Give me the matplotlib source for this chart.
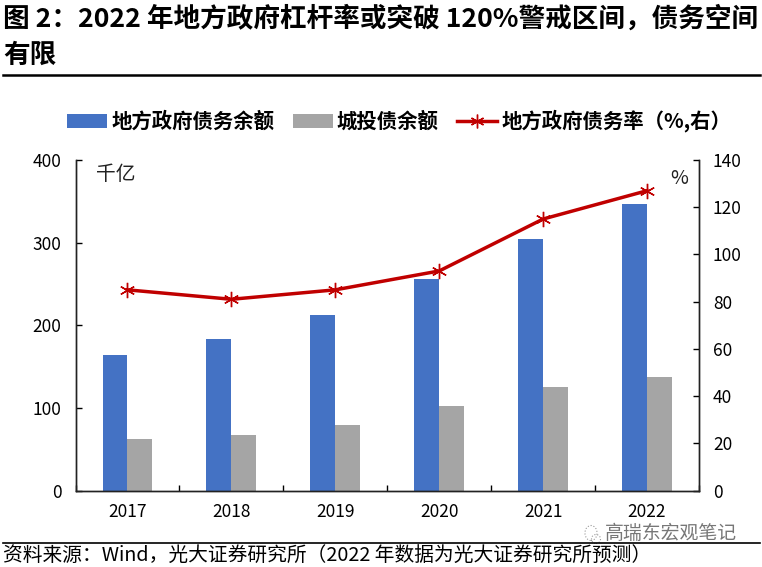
import numpy as np
import matplotlib
matplotlib.use('Agg')
import matplotlib.pyplot as plt
from matplotlib.lines import Line2D
from matplotlib.patches import Ellipse

plt.rcParams['font.family'] = ['Noto Sans CJK SC', 'DejaVu Sans']

years = ['2017', '2018', '2019', '2020', '2021', '2022']
local_debt = [164, 183, 212, 256, 304, 347]
lgfv_debt = [62, 67, 79, 102, 125, 137]
debt_ratio = [85, 81, 85, 93, 115, 127]

blue = '#4472C4'
gray = '#A5A5A5'
red = '#C00000'
W, H = 762, 567

fig = plt.figure(figsize=(W / 100, H / 100), dpi=100)
ax = fig.add_axes([75.5 / W, 1 - 490.5 / H, (699 - 75.5) / W, (490.5 - 160) / H])
ax2 = ax.twinx()

x = np.arange(len(years))
w = 0.24
ax.bar(x - w / 2, local_debt, w, color=blue, label='地方政府债务余额')
ax.bar(x + w / 2, lgfv_debt, w, color=gray, label='城投债余额')
ax2.plot(x, debt_ratio, color=red, lw=2.5, marker=(6, 2, 0), ms=11, mew=1.0,
         label='地方政府债务率（%,右）')

ax.set_xlim(-0.5, 5.5)
ax.set_ylim(0, 400)
ax2.set_ylim(0, 140)
ax.set_yticks([0, 100, 200, 300, 400])
ax2.set_yticks(range(0, 141, 20))
ax.set_xticks(x)
ax.set_xticklabels(years)
ax.set_xticks(np.arange(-0.5, 6), minor=True)
ax.tick_params(axis='x', which='major', length=0, labelsize=12.5, pad=9)
ax.tick_params(axis='x', which='minor', direction='in', length=4, width=1)
ax.tick_params(axis='y', direction='in', length=4, width=1, labelsize=12.5, pad=10)
ax2.tick_params(axis='y', direction='in', length=4, width=1, labelsize=12.5, pad=10)
for a in (ax, ax2):
    a.spines['top'].set_visible(False)
    for s in ('left', 'right', 'bottom'):
        a.spines[s].set_linewidth(1)
        a.spines[s].set_color('#222222')

fig.text(96 / W, 1 - 174 / H, '千亿', fontsize=14.2, va='center', color='#222222')
fig.text(670 / W, 1 - 179 / H, '%', fontsize=14, va='center', color='#222222')

# title, rules, source
fig.text(3 / W, 1 - 19 / H, '图 2：2022 年地方政府杠杆率或突破 120%警戒区间，债务空间',
         fontsize=19.2, fontweight='bold', va='center')
fig.text(3 / W, 1 - 55 / H, '有限', fontsize=19.2, fontweight='bold', va='center')
fig.add_artist(Line2D([3 / W, 760 / W], [1 - 74.5 / H] * 2, color='black', lw=1.8))
fig.add_artist(Line2D([3 / W, 760 / W], [1 - 542.5 / H] * 2, color='black', lw=1.2))
fig.text(3 / W, 1 - 555 / H, '资料来源：Wind，光大证券研究所（2022 年数据为光大证券研究所预测）',
         fontsize=14.2, va='center')

# watermark
fig.text(605 / W, 1 - 533 / H, '高瑞东宏观笔记', fontsize=13.6, va='center', color='#777777')
fig.add_artist(Ellipse((591 / W, 1 - 533 / H), 12 / W, 15 / H, fill=False, ec='#999999', lw=0.8, ls=':'))
fig.add_artist(Ellipse((596 / W, 1 - 539 / H), 9 / W, 9 / H, fill=False, ec='#999999', lw=0.8, ls=':'))

# legend
lh1, ll1 = ax.get_legend_handles_labels()
lh2, ll2 = ax2.get_legend_handles_labels()
fig.legend(lh1 + lh2, ll1 + ll2, ncol=3, frameon=False, loc='center',
           bbox_to_anchor=(399 / W, 1 - 121 / H), prop={'size': 14.7, 'weight': 'bold'},
           handlelength=1.96, handletextpad=0.2, columnspacing=0.9, markerscale=0.9)

fig.savefig('out.png', dpi=100)
